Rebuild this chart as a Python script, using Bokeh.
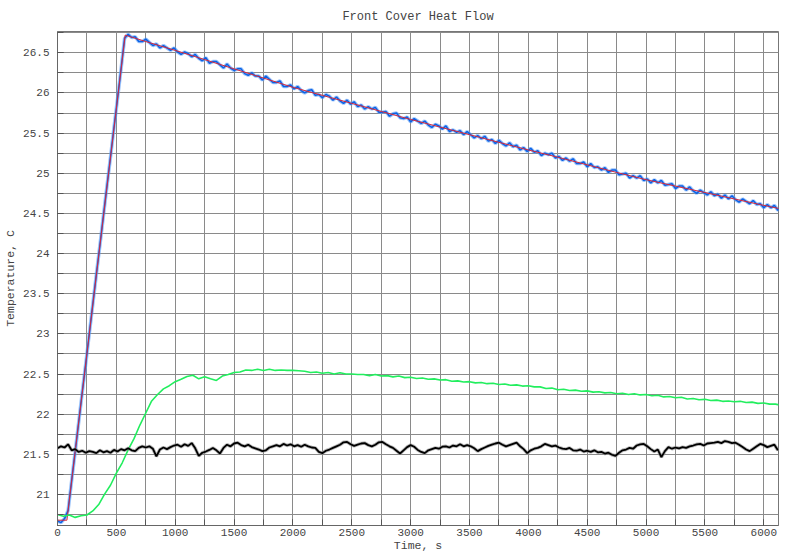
from bokeh.plotting import figure
from bokeh.models import Range1d, SingleIntervalTicker, CustomJSTickFormatter
from bokeh.embed import file_html
from bokeh.resources import INLINE

# ---------------- data ----------------
red_t = [0, 80, 575, 750, 1000, 1250, 1500, 1750, 2000, 2250, 2500, 2750, 3000,
         3250, 3500, 3750, 4000, 4250, 4500, 4750, 5000, 5250, 5500, 5750, 6000, 6150]
red_v = [20.68, 20.68, 26.72, 26.64, 26.53, 26.415, 26.30, 26.185, 26.07, 25.97, 25.87,
         25.77, 25.67, 25.575, 25.48, 25.385, 25.29, 25.20, 25.105, 25.01, 24.92, 24.84,
         24.76, 24.68, 24.60, 24.555]

blue_t = list(range(0, 6151, 30))
blue_v = [
    20.67, 20.65, 20.70, 20.80, 21.17, 21.53, 21.90, 22.27, 22.63, 23.00,
    23.37, 23.74, 24.10, 24.47, 24.84, 25.20, 25.57, 25.93, 26.30, 26.68,
    26.73, 26.69, 26.70, 26.64, 26.64, 26.67, 26.63, 26.59, 26.61, 26.56,
    26.59, 26.56, 26.53, 26.56, 26.51, 26.48, 26.51, 26.49, 26.45, 26.48,
    26.43, 26.40, 26.44, 26.37, 26.39, 26.39, 26.35, 26.31, 26.36, 26.31,
    26.28, 26.30, 26.30, 26.24, 26.22, 26.25, 26.21, 26.21, 26.16, 26.21,
    26.17, 26.13, 26.13, 26.15, 26.08, 26.08, 26.10, 26.05, 26.08, 26.03,
    26.00, 26.03, 26.04, 25.97, 25.98, 25.94, 25.98, 25.96, 25.91, 25.95,
    25.90, 25.87, 25.91, 25.86, 25.89, 25.83, 25.85, 25.80, 25.83, 25.80,
    25.82, 25.76, 25.76, 25.77, 25.71, 25.74, 25.75, 25.69, 25.68, 25.70,
    25.64, 25.68, 25.65, 25.62, 25.65, 25.60, 25.57, 25.61, 25.59, 25.55,
    25.59, 25.52, 25.54, 25.51, 25.53, 25.48, 25.52, 25.48, 25.44, 25.47,
    25.43, 25.46, 25.40, 25.42, 25.37, 25.41, 25.37, 25.34, 25.38, 25.33,
    25.35, 25.29, 25.32, 25.27, 25.31, 25.26, 25.28, 25.22, 25.25, 25.23,
    25.25, 25.19, 25.21, 25.16, 25.19, 25.15, 25.18, 25.12, 25.12, 25.14,
    25.08, 25.12, 25.07, 25.08, 25.04, 25.07, 25.01, 25.04, 25.04, 24.98,
    24.99, 25.00, 24.94, 24.97, 24.94, 24.97, 24.91, 24.93, 24.88, 24.92,
    24.88, 24.91, 24.85, 24.86, 24.87, 24.81, 24.84, 24.84, 24.79, 24.83,
    24.78, 24.75, 24.79, 24.76, 24.73, 24.77, 24.72, 24.74, 24.69, 24.73,
    24.68, 24.72, 24.67, 24.64, 24.68, 24.65, 24.62, 24.66, 24.61, 24.62,
    24.57, 24.61, 24.57, 24.60, 24.54, 24.57,
]

green_t = list(range(0, 6151, 50))
green_v = [
    20.75, 20.73, 20.745, 20.715, 20.735, 20.745, 20.795, 20.875, 21.005, 21.115,
    21.265, 21.395, 21.555, 21.695, 21.865, 22.015, 22.165, 22.245, 22.315, 22.355,
    22.405, 22.435, 22.47, 22.485, 22.44, 22.465, 22.44, 22.42, 22.475, 22.495,
    22.52, 22.525, 22.55, 22.545, 22.56, 22.545, 22.56, 22.545, 22.55, 22.545,
    22.545, 22.54, 22.535, 22.52, 22.525, 22.51, 22.52, 22.50, 22.515, 22.50,
    22.50, 22.495, 22.495, 22.48, 22.495, 22.475, 22.48, 22.465, 22.475, 22.455,
    22.46, 22.445, 22.45, 22.435, 22.44, 22.425, 22.43, 22.41, 22.415, 22.40,
    22.405, 22.39, 22.395, 22.38, 22.385, 22.37, 22.375, 22.36, 22.365, 22.35,
    22.355, 22.34, 22.34, 22.32, 22.325, 22.305, 22.31, 22.295, 22.30, 22.285,
    22.29, 22.275, 22.28, 22.265, 22.27, 22.255, 22.26, 22.245, 22.255, 22.24,
    22.245, 22.23, 22.235, 22.215, 22.22, 22.205, 22.21, 22.19, 22.195, 22.18,
    22.185, 22.17, 22.175, 22.16, 22.165, 22.155, 22.16, 22.145, 22.15, 22.135,
    22.14, 22.125, 22.125, 22.11,
]

black_t = list(range(0, 6121, 30))
black_v = [
    21.575, 21.60, 21.585, 21.625, 21.55, 21.565, 21.53, 21.545, 21.52, 21.54,
    21.53, 21.515, 21.55, 21.525, 21.54, 21.52, 21.555, 21.535, 21.565, 21.55,
    21.575, 21.55, 21.54, 21.58, 21.60, 21.585, 21.60, 21.57, 21.475, 21.56,
    21.585, 21.565, 21.59, 21.61, 21.62, 21.595, 21.625, 21.605, 21.64, 21.575,
    21.48, 21.52, 21.535, 21.555, 21.58, 21.55, 21.51, 21.58, 21.62, 21.60,
    21.635, 21.645, 21.615, 21.60, 21.62, 21.59, 21.575, 21.56, 21.54, 21.55,
    21.585, 21.60, 21.615, 21.60, 21.63, 21.61, 21.625, 21.60, 21.615, 21.595,
    21.62, 21.60, 21.585, 21.58, 21.53, 21.515, 21.545, 21.56, 21.58, 21.60,
    21.62, 21.65, 21.655, 21.625, 21.605, 21.62, 21.635, 21.64, 21.615, 21.60,
    21.62, 21.65, 21.655, 21.625, 21.60, 21.58, 21.545, 21.51, 21.55, 21.59,
    21.615, 21.595, 21.555, 21.53, 21.515, 21.55, 21.565, 21.58, 21.57, 21.595,
    21.60, 21.585, 21.61, 21.60, 21.625, 21.60, 21.615, 21.60, 21.575, 21.54,
    21.565, 21.585, 21.605, 21.62, 21.635, 21.645, 21.62, 21.60, 21.615, 21.63,
    21.645, 21.60, 21.565, 21.515, 21.55, 21.57, 21.58, 21.60, 21.63, 21.615,
    21.60, 21.61, 21.585, 21.57, 21.565, 21.58, 21.55, 21.545, 21.56, 21.535,
    21.545, 21.53, 21.55, 21.525, 21.53, 21.51, 21.52, 21.495, 21.48, 21.52,
    21.55, 21.56, 21.58, 21.57, 21.61, 21.625, 21.63, 21.60, 21.565, 21.535,
    21.56, 21.465, 21.54, 21.59, 21.57, 21.585, 21.575, 21.59, 21.58, 21.60,
    21.61, 21.625, 21.63, 21.61, 21.635, 21.64, 21.645, 21.655, 21.64, 21.665,
    21.655, 21.64, 21.645, 21.62, 21.59, 21.56, 21.54, 21.57, 21.60, 21.63,
    21.615, 21.59, 21.605, 21.62, 21.55,
]

title_text = "Front Cover Heat Flow"
x_label = "Time, s"
y_label = "Temperature, C"
x_lim = (0, 6125)
y_lim = (20.614, 26.765)

FONT = "Liberation Mono"
TXT = "#444444"
GRID = "#8a8a8a"

p = figure(width=784, height=554, output_backend="svg", toolbar_location=None,
           x_range=Range1d(*x_lim), y_range=Range1d(*y_lim),
           min_border_left=57, min_border_right=6, min_border_top=30, min_border_bottom=29)

p.title.text = title_text
p.title.align = "center"
p.title.vertical_align = "bottom"
p.title.text_font = FONT
p.title.text_font_size = "12px"
p.title.text_line_height = 0.5
p.title.text_font_style = "normal"
p.title.text_color = TXT
p.title.standoff = 15

p.outline_line_color = "#777777"
p.background_fill_color = "white"
p.border_fill_color = "white"

# axes
p.xaxis.ticker = SingleIntervalTicker(interval=500, num_minor_ticks=2)
p.yaxis.ticker = SingleIntervalTicker(interval=0.5, num_minor_ticks=2)
p.yaxis.formatter = CustomJSTickFormatter(code="return String(Math.round(tick*100)/100)")
p.xaxis.formatter = CustomJSTickFormatter(code="return String(Math.round(tick))")
for ax in (p.xaxis, p.yaxis):
    ax.major_tick_in = 6
    ax.major_tick_out = 0
    ax.minor_tick_in = 6
    ax.minor_tick_out = 0
    ax.axis_line_color = "#666666"
    ax.major_tick_line_color = "#555555"
    ax.minor_tick_line_color = "#555555"
    ax.major_label_text_font = FONT
    ax.major_label_text_font_size = "11px"
    ax.major_label_text_color = TXT
    ax.axis_label_text_font = FONT
    ax.axis_label_text_font_size = "11.5px"
    ax.axis_label_text_font_style = "normal"
    ax.axis_label_text_color = TXT
p.xaxis.axis_label = x_label
p.yaxis.axis_label = y_label
p.xaxis.major_label_standoff = 3
p.xaxis.axis_label_standoff = 0
p.yaxis.major_label_standoff = 8
p.yaxis.axis_label_standoff = 3

# grid (major + minor identical)
for g in (p.xgrid, p.ygrid):
    g.grid_line_color = GRID
    g.grid_line_width = 1
    g.minor_grid_line_color = GRID
    g.minor_grid_line_width = 1

# series
p.line(blue_t, blue_v, line_color="#5a9cf7", line_width=3.5, line_alpha=0.6)
p.line(blue_t, blue_v, line_color="#0a62e6", line_width=1.5)
p.line(red_t, red_v, line_color="#d8283a", line_width=1)
p.line(green_t, green_v, line_color="#22ee5e", line_width=1.6)
p.line(black_t, black_v, line_color="#888888", line_width=3.5, line_alpha=0.6)
p.line(black_t, black_v, line_color="#000000", line_width=1.8)

open("out.html", "w").write(file_html(p, INLINE))
